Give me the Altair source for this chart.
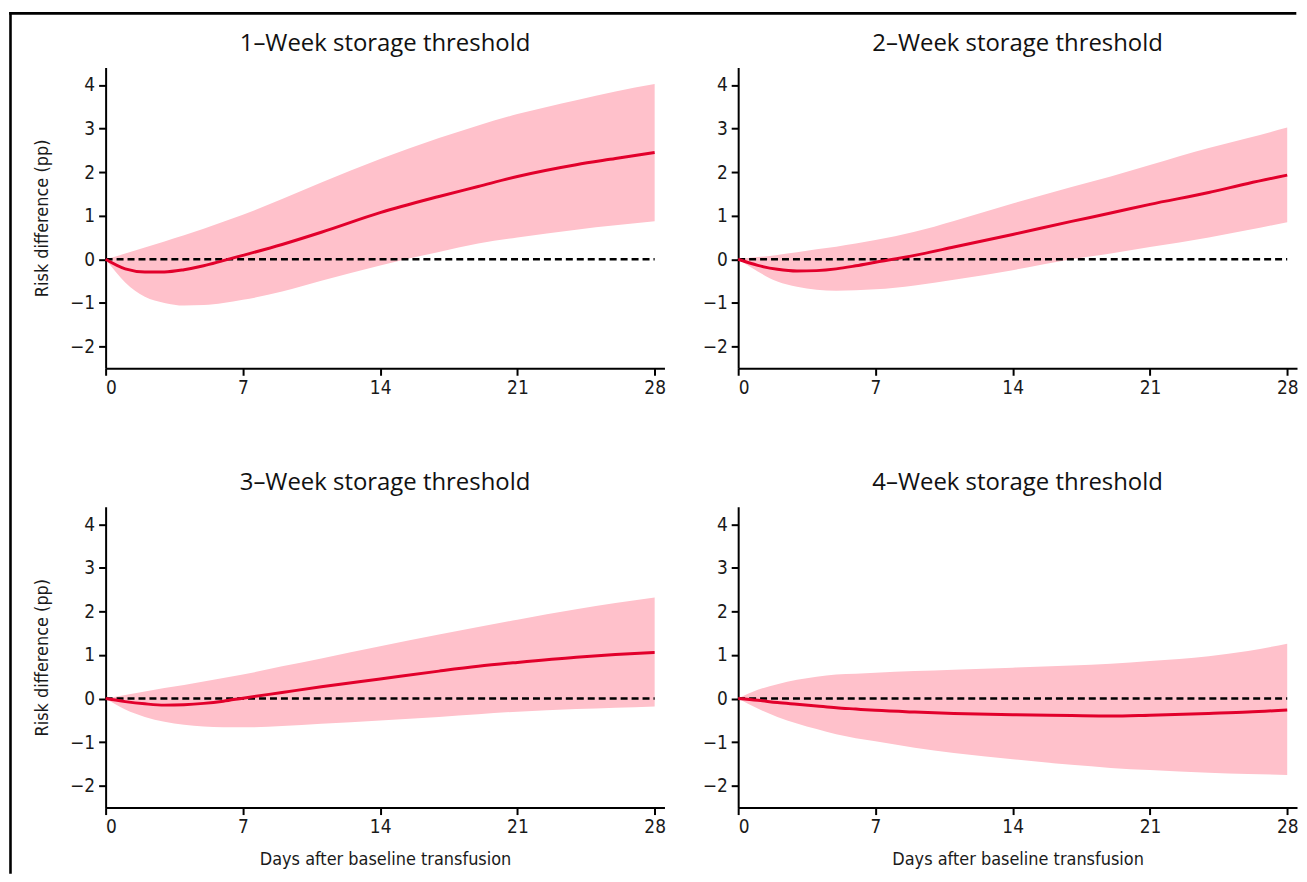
import altair as alt
import pandas as pd

# ---------------- data ----------------
days = [0, 1, 2, 3, 4, 5, 6, 7, 9, 11, 14, 17, 19, 21, 24, 26, 28]
x_ticks = [0, 7, 14, 21, 28]
y_ticks = [-2, -1, 0, 1, 2, 3, 4]

panel_titles = [
    "1\u2013Week storage threshold",
    "2\u2013Week storage threshold",
    "3\u2013Week storage threshold",
    "4\u2013Week storage threshold",
]

est_1w = [0, -0.22, -0.29, -0.29, -0.24, -0.15, -0.03, 0.09, 0.34, 0.62, 1.07, 1.44, 1.67, 1.90, 2.17, 2.31, 2.45]
hi_1w = [0, 0.13, 0.27, 0.41, 0.55, 0.70, 0.86, 1.02, 1.38, 1.76, 2.30, 2.78, 3.07, 3.33, 3.65, 3.85, 4.02]
lo_1w = [0, -0.53, -0.86, -1.00, -1.06, -1.05, -1.00, -0.93, -0.74, -0.49, -0.14, 0.17, 0.36, 0.50, 0.68, 0.78, 0.87]

est_2w = [0, -0.14, -0.23, -0.27, -0.26, -0.22, -0.15, -0.07, 0.09, 0.28, 0.57, 0.87, 1.06, 1.26, 1.53, 1.74, 1.93]
hi_2w = [0, 0.05, 0.10, 0.16, 0.23, 0.29, 0.36, 0.44, 0.63, 0.88, 1.28, 1.66, 1.90, 2.16, 2.55, 2.78, 3.02]
lo_2w = [0, -0.28, -0.51, -0.63, -0.70, -0.72, -0.71, -0.69, -0.60, -0.47, -0.25, 0.00, 0.13, 0.28, 0.50, 0.67, 0.85]

est_3w = [0, -0.07, -0.12, -0.15, -0.14, -0.11, -0.06, 0.01, 0.14, 0.27, 0.45, 0.63, 0.74, 0.83, 0.95, 1.01, 1.06]
hi_3w = [0, 0.08, 0.16, 0.24, 0.31, 0.39, 0.47, 0.55, 0.74, 0.92, 1.20, 1.47, 1.64, 1.81, 2.05, 2.19, 2.32]
lo_3w = [0, -0.25, -0.42, -0.53, -0.60, -0.64, -0.66, -0.66, -0.63, -0.58, -0.50, -0.42, -0.36, -0.30, -0.24, -0.21, -0.18]

est_4w = [0, -0.04, -0.09, -0.13, -0.17, -0.21, -0.24, -0.27, -0.31, -0.34, -0.37, -0.39, -0.40, -0.38, -0.34, -0.31, -0.26]
hi_4w = [0, 0.20, 0.33, 0.43, 0.50, 0.55, 0.57, 0.59, 0.63, 0.66, 0.71, 0.76, 0.80, 0.86, 0.97, 1.09, 1.26]
lo_4w = [0, -0.23, -0.42, -0.57, -0.70, -0.82, -0.91, -0.98, -1.13, -1.25, -1.39, -1.52, -1.59, -1.64, -1.70, -1.73, -1.75]

series = [
    (est_1w, lo_1w, hi_1w),
    (est_2w, lo_2w, hi_2w),
    (est_3w, lo_3w, hi_3w),
    (est_4w, lo_4w, hi_4w),
]

# ---------------- styling ----------------
PINK = "#FFC1CB"
RED = "#E2002B"
AXIS_FONT = "DejaVu Sans Condensed, Liberation Sans Narrow, sans-serif"
TITLE_FONT = "Open Sans, Lato, sans-serif"
W, H = 561, 302
X_DOMAIN = [0, 28.5]
Y_DOMAIN = [-2.5, 4.4]


def panel(i, x_title, y_title, frame=False):
    est, lo, hi = series[i]
    df = pd.DataFrame({"day": days, "est": est, "lo": lo, "hi": hi})
    one_df = pd.DataFrame({"title": [panel_titles[i]]})

    x_axis = alt.Axis(values=x_ticks, title=x_title) if x_title else alt.Axis(values=x_ticks, title=None)
    y_axis = alt.Axis(values=y_ticks, title=y_title) if y_title else alt.Axis(values=y_ticks, title=None)

    xs = alt.Scale(domain=X_DOMAIN, nice=False, zero=False)
    ys = alt.Scale(domain=Y_DOMAIN, nice=False, zero=False)

    band = alt.Chart(df).mark_area(color=PINK, opacity=1, interpolate="monotone").encode(
        x=alt.X("day:Q", scale=xs, axis=x_axis),
        y=alt.Y("lo:Q", scale=ys, axis=y_axis),
        y2="hi:Q",
    )
    zero = alt.Chart(one_df).mark_rule(color="black", strokeWidth=2.5, strokeDash=[7, 4]).encode(
        x=alt.datum(0), x2=alt.datum(28), y=alt.datum(0)
    )
    line = alt.Chart(df).mark_line(color=RED, strokeWidth=3, interpolate="monotone").encode(
        x="day:Q", y="est:Q"
    )
    title = alt.Chart(one_df).mark_text(
        font=TITLE_FONT, fontSize=24, color="#111111", align="center", baseline="middle"
    ).encode(x=alt.value(W / 2), y=alt.value(-24), text="title:N")
    layers = [band, zero, line, title]
    if frame:
        top = alt.Chart(one_df).mark_rule(color="black", strokeWidth=2.6, strokeCap="square").encode(
            x=alt.value(-95.5), x2=alt.value(1194), y=alt.value(-54.3)
        )
        left = alt.Chart(one_df).mark_rule(color="black", strokeWidth=2.6, strokeCap="square").encode(
            x=alt.value(-95.5), y=alt.value(-54.3), y2=alt.value(808)
        )
        layers += [top, left]
    return alt.layer(*layers).properties(width=W, height=H)


p1 = panel(0, None, "Risk difference (pp)", frame=True)
p2 = panel(1, None, None)
p3 = panel(2, "Days after baseline transfusion", "Risk difference (pp)")
p4 = panel(3, "Days after baseline transfusion", None)

chart = alt.concat(
    p1, p2, p3, p4,
    columns=2,
    spacing={"row": 139, "column": 74},
    bounds="flush",
).properties(
    padding={"left": 0, "top": 1, "right": 0, "bottom": 0},
).configure_view(
    strokeWidth=0
).configure_axis(
    grid=False,
    domainColor="black",
    domainWidth=2,
    tickColor="black",
    tickWidth=2,
    tickSize=7,
    labelFont=AXIS_FONT,
    labelFontSize=19,
    labelColor="#1a1a1a",
    titleFont=AXIS_FONT,
    titleFontSize=18,
    titleFontWeight="normal",
    titleColor="#1a1a1a",
).configure_axisX(
    labelPadding=3,
    titlePadding=14,
).configure_axisY(
    labelPadding=4,
    titlePadding=18,
)

chart.save("out.html", embed_options={"renderer": "svg", "actions": False})
